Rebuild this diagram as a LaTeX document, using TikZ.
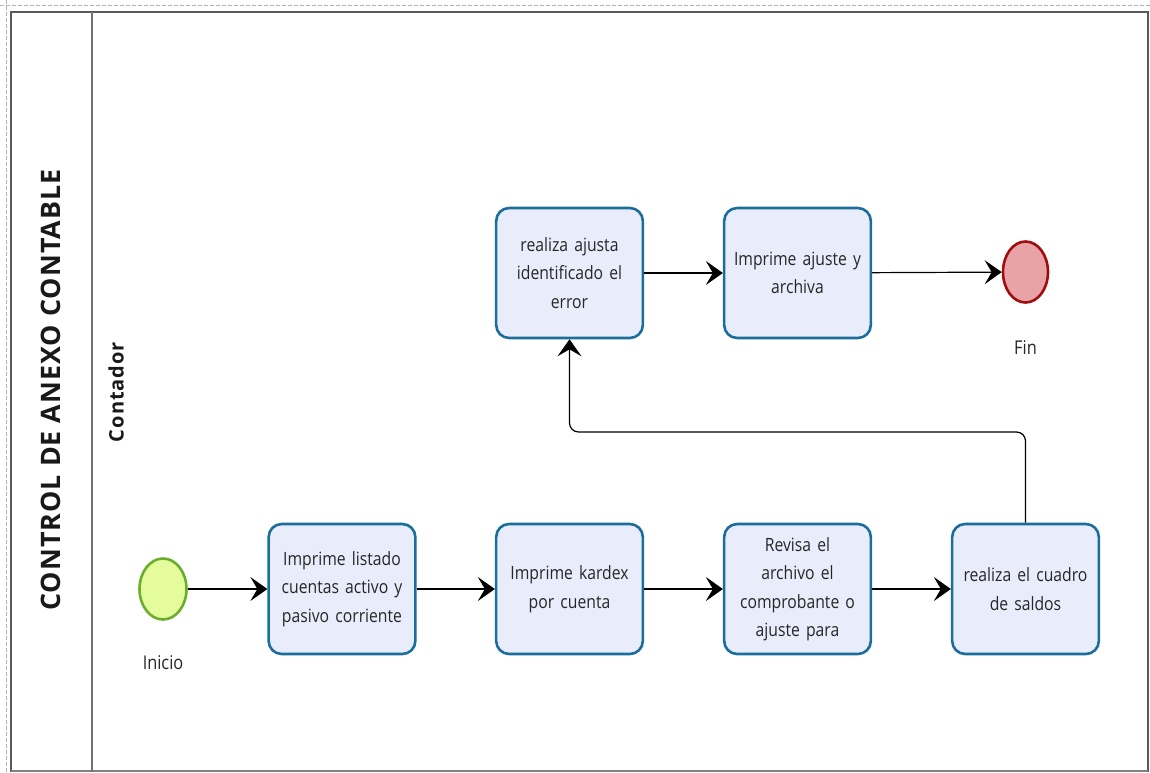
\documentclass[tikz,border=0pt]{standalone}
\usepackage{fontspec}
\setmainfont{Open Sans}[FakeStretch=0.86]
\newfontfamily\titlefont{Open Sans}[LetterSpace=4]
\newfontfamily\lanefont{Open Sans}[LetterSpace=5]
\usetikzlibrary{arrows.meta,shapes.geometric}
\definecolor{taskline}{HTML}{1B6E9C}
\definecolor{taskfill}{HTML}{E9EDFB}
\definecolor{startline}{HTML}{6BAE2B}
\definecolor{startfill}{HTML}{E4FC9C}
\definecolor{endline}{HTML}{A00D0D}
\definecolor{endfill}{HTML}{E8A3A6}
\begin{document}
\begin{tikzpicture}[x=1pt,y=-1pt,
  taskbox/.style={draw=taskline,line width=2.6pt,fill=taskfill,rounded corners=13pt,
    minimum width=146pt,minimum height=130pt,align=center,text width=140pt,
    font=\fontsize{18.3}{28.5}\selectfont,text=black!85},
  startev/.style={ellipse,draw=startline,line width=2.6pt,fill=startfill,
    minimum width=47pt,minimum height=61pt,inner sep=0pt},
  endev/.style={ellipse,draw=endline,line width=2.6pt,fill=endfill,
    minimum width=45pt,minimum height=61pt,inner sep=0pt},
  evlabel/.style={font=\fontsize{19}{22}\selectfont,text=black!85},
  flow/.style={draw=black,line width=1.2pt,-{Stealth[length=17pt,width=24pt,inset=7pt]}},
  poolline/.style={draw=black!65,line width=1.8pt},
  guide/.style={draw=black!30,line width=0.9pt,dash pattern=on 4pt off 2pt}]
  \useasboundingbox (0,0) rectangle (1150,772);
  % page guides
  \draw[guide] (0,5) -- (1150,5);
  \draw[guide] (6,0) -- (6,772);
  % pool and lane
  \draw[poolline] (11,772) -- (11,12) -- (1148,12) -- (1148,772);
  \draw[draw=black!50,line width=1.2pt] (11,771) -- (1148,771);
  \draw[draw=black!55,line width=1.4pt] (92,12) -- (92,772);
  \node[rotate=90,font=\titlefont\bfseries\fontsize{26.8}{30}\selectfont,text=black!90] (pool) at (51,390) {CONTROL DE ANEXO CONTABLE};
  \node[rotate=90,font=\lanefont\bfseries\fontsize{20}{22}\selectfont,text=black!90] (lane) at (116,392) {Contador};
  % events
  \node[startev] (start) at (163,589) {};
  \node[evlabel] (startlbl) at (163,663) {Inicio};
  \node[endev] (end) at (1025.5,272) {};
  \node[evlabel] (endlbl) at (1025.5,348) {Fin};
  % tasks
  \node[taskbox] (t1) at (342,589) {Imprime listado\\cuentas activo y\\pasivo corriente};
  \node[taskbox] (t2) at (569.5,589) {Imprime kardex\\por cuenta};
  \node[taskbox] (t3) at (797.5,589) {Revisa el\\archivo el\\comprobante o\\ajuste para};
  \node[taskbox] (t4) at (1025.5,589) {realiza el cuadro\\de saldos};
  \node[taskbox] (t5) at (569.5,273) {realiza ajusta\\identificado el\\error};
  \node[taskbox] (t6) at (797.5,273) {Imprime ajuste y\\archiva};
  % sequence flows
  \draw[flow] (start) -- (t1);
  \draw[flow] (t1) -- (t2);
  \draw[flow] (t2) -- (t3);
  \draw[flow] (t3) -- (t4);
  \draw[flow,rounded corners=9pt] (t4.north) -- (1025.5,432) -- (569.5,432) -- (t5.south);
  \draw[flow] (t5) -- (t6);
  \draw[flow] (t6) -- (end);
\end{tikzpicture}
\end{document}
